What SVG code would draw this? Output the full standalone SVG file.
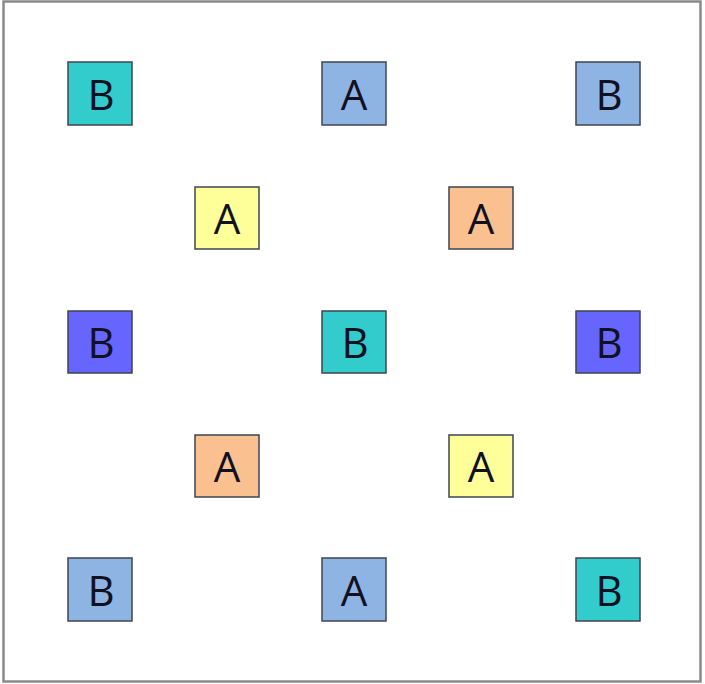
<svg xmlns="http://www.w3.org/2000/svg" width="705" height="684" viewBox="0 0 705 684">
<style>
.n rect{stroke:#3f4450;stroke-width:1.5}
.n text{font-family:"Open Sans","Liberation Sans",sans-serif;font-size:42px;fill:#111122;text-anchor:middle}
.teal{fill:#33cccc}.lb{fill:#8eb4e3}.yl{fill:#ffff99}.or{fill:#fac090}.bl{fill:#6666ff}
</style>
<rect x="0" y="0" width="705" height="684" fill="#ffffff"/>
<rect x="3.5" y="1.5" width="697" height="680" fill="none" stroke="#8a8a8a" stroke-width="2.5"/>
<g id="connectors"></g>
<g id="n1" class="n"><rect class="teal" x="68" y="62" width="64" height="63"/><text x="101" y="110">B</text></g>
<g id="n2" class="n"><rect class="lb" x="322" y="62" width="64" height="63"/><text x="354" y="110">A</text></g>
<g id="n3" class="n"><rect class="lb" x="576" y="62" width="64" height="63"/><text x="609" y="110">B</text></g>
<g id="n4" class="n"><rect class="yl" x="195" y="187" width="64" height="62"/><text x="227" y="234">A</text></g>
<g id="n5" class="n"><rect class="or" x="449" y="187" width="64" height="62"/><text x="481" y="234">A</text></g>
<g id="n6" class="n"><rect class="bl" x="68" y="311" width="64" height="62"/><text x="101" y="358">B</text></g>
<g id="n7" class="n"><rect class="teal" x="322" y="311" width="64" height="62"/><text x="355" y="358">B</text></g>
<g id="n8" class="n"><rect class="bl" x="576" y="311" width="64" height="62"/><text x="609" y="358">B</text></g>
<g id="n9" class="n"><rect class="or" x="195" y="435" width="64" height="62"/><text x="227" y="482">A</text></g>
<g id="n10" class="n"><rect class="yl" x="449" y="435" width="64" height="62"/><text x="481" y="482">A</text></g>
<g id="n11" class="n"><rect class="lb" x="68" y="558" width="64" height="63"/><text x="101" y="606">B</text></g>
<g id="n12" class="n"><rect class="lb" x="322" y="558" width="64" height="63"/><text x="354" y="606">A</text></g>
<g id="n13" class="n"><rect class="teal" x="576" y="558" width="64" height="63"/><text x="609" y="606">B</text></g>
</svg>
